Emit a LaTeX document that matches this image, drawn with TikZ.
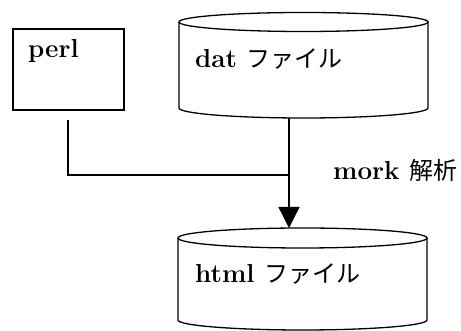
\documentclass[tikz,border=0pt]{standalone}
\usepackage{fontspec}
\newfontfamily\jp{Noto Sans CJK JP}
\usetikzlibrary{arrows.meta}
\newcommand{\jtext}[1]{{\jp\mdseries\fontsize{24}{28}\selectfont #1}}
\tikzset{
  lbl/.style={anchor=base west, inner sep=0pt, font=\fontsize{26}{30}\selectfont\bfseries},
  ln/.style={line width=1.3pt},
}
\begin{document}
\begin{tikzpicture}[x=1pt,y=1pt]
\useasboundingbox (0,0) rectangle (461,331);
% perl box
\draw[ln] (13,221) rectangle (124,302);
\node[lbl] (perl) at (28,273) {perl};
\coordinate (perlout) at (68,211);
% dat cylinder
\draw[ln] (303.5,309) ellipse [x radius=124.5, y radius=9.5];
\draw[ln] (179,309) -- (179,223) arc [start angle=180, end angle=360, x radius=124.5, y radius=10] -- (428,309);
\node[lbl] (dat) at (195,263) {dat \jtext{ファイル}};
\coordinate (datout) at (289,213);
% html cylinder
\draw[ln] (302.5,93) ellipse [x radius=124.5, y radius=10];
\draw[ln] (178,93) -- (178,11) arc [start angle=180, end angle=360, x radius=124.5, y radius=10] -- (427,93);
\node[lbl] (html) at (195,48) {html \jtext{ファイル}};
\coordinate (htmlin) at (289,103);
% connectors
\coordinate (junc) at (289,156);
\draw[ln] (perlout) |- (junc);
\draw[ln, -{Triangle[width=21pt,length=21pt]}] (datout) -- (htmlin);
\node[lbl] (mork) at (333,151) {mork \jtext{解析}};
\end{tikzpicture}
\end{document}
